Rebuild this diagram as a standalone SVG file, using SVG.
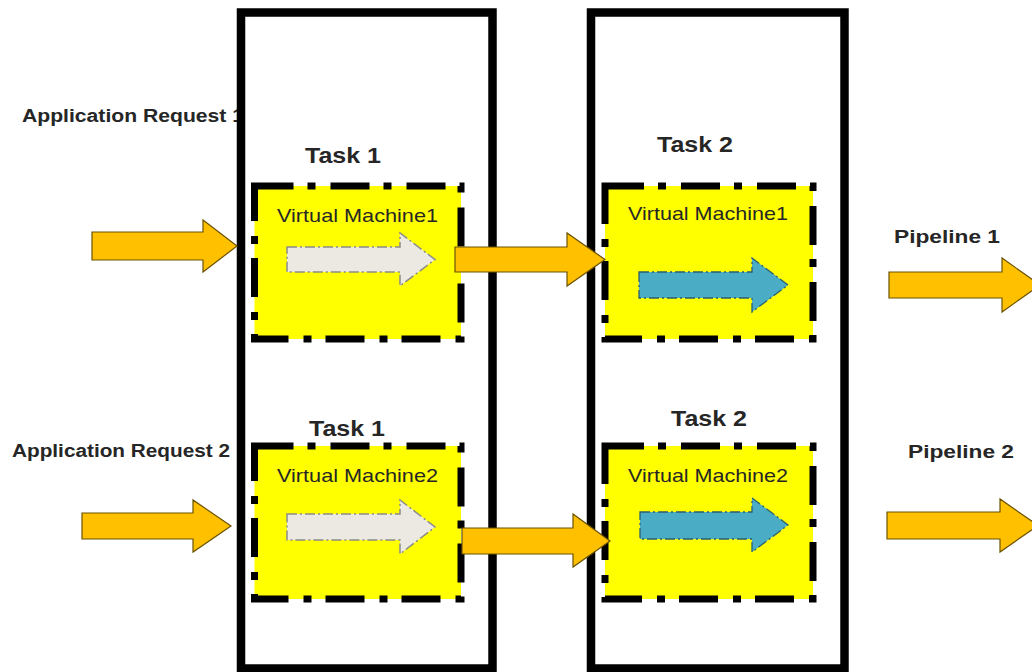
<svg xmlns="http://www.w3.org/2000/svg" width="1032" height="672" viewBox="0 0 1032 672">
  <style>
    .stage { fill: none; stroke: #000; stroke-width: 8.5; }
    .vm { fill: #FFFF00; stroke: #000; stroke-width: 7; stroke-dasharray: 39 14 8 15; }
    .flow { fill: #FFC000; stroke: #6B5200; stroke-width: 1.2; stroke-linejoin: miter; }
    .idle { fill: #EBE9E1; stroke: #8A8A8A; stroke-width: 1.5; stroke-dasharray: 10 3 2 3; }
    .busy { fill: #4BACC6; stroke: #2A5E6E; stroke-width: 1.3; stroke-dasharray: 10 3 2 3; }
    .lbl { font-family: "Liberation Sans", Arial, sans-serif; font-weight: bold; fill: #262626; }
    .vmtxt { font-family: "Liberation Sans", Arial, sans-serif; font-size: 19px; fill: #262626; }
  </style>

  <rect width="1032" height="672" fill="#fff"/>

  <!-- request / pipeline labels (drawn first so the stage border overlaps them) -->
  <g id="label-request1">
    <text class="lbl" x="22" y="122" font-size="18" textLength="222" lengthAdjust="spacingAndGlyphs">Application Request 1</text>
  </g>
  <g id="label-request2">
    <text class="lbl" x="12" y="457" font-size="18" textLength="218" lengthAdjust="spacingAndGlyphs">Application Request 2</text>
  </g>
  <g id="label-pipeline1">
    <text class="lbl" x="894" y="243" font-size="19" textLength="106" lengthAdjust="spacingAndGlyphs">Pipeline 1</text>
  </g>
  <g id="label-pipeline2">
    <text class="lbl" x="908" y="458" font-size="19" textLength="106" lengthAdjust="spacingAndGlyphs">Pipeline 2</text>
  </g>

  <!-- pipeline stage containers -->
  <g id="stage-task1">
    <rect class="stage" x="241" y="12.5" width="251.5" height="656"/>
  </g>
  <g id="stage-task2">
    <rect class="stage" x="591" y="12.5" width="253.5" height="656"/>
  </g>

  <!-- stage titles -->
  <g id="title-task1-row1"><text class="lbl" x="305" y="163" font-size="22" textLength="76" lengthAdjust="spacingAndGlyphs">Task 1</text></g>
  <g id="title-task2-row1"><text class="lbl" x="657" y="152" font-size="22" textLength="76" lengthAdjust="spacingAndGlyphs">Task 2</text></g>
  <g id="title-task1-row2"><text class="lbl" x="309" y="436" font-size="22" textLength="76" lengthAdjust="spacingAndGlyphs">Task 1</text></g>
  <g id="title-task2-row2"><text class="lbl" x="671" y="426" font-size="22" textLength="76" lengthAdjust="spacingAndGlyphs">Task 2</text></g>

  <!-- virtual machines -->
  <g id="vm1-task1">
    <rect class="vm" x="254.5" y="186" width="206.5" height="153"/>
    <text class="vmtxt" x="277" y="222" textLength="161" lengthAdjust="spacingAndGlyphs">Virtual Machine1</text>
    <polygon class="idle" points="287,247 400,247 400,233 435,259.5 400,286 400,272 287,272"/>
  </g>
  <g id="vm1-task2">
    <rect class="vm" x="605" y="186" width="208" height="153"/>
    <text class="vmtxt" x="628" y="220" textLength="160" lengthAdjust="spacingAndGlyphs">Virtual Machine1</text>
    <polygon class="busy" points="639,272 752,272 752,258 788,285 752,312 752,298 639,298"/>
  </g>
  <g id="vm2-task1">
    <rect class="vm" x="254.5" y="446" width="206.5" height="153"/>
    <text class="vmtxt" x="277" y="482" textLength="161" lengthAdjust="spacingAndGlyphs">Virtual Machine2</text>
    <polygon class="idle" points="287,514 400,514 400,500 435,527 400,554 400,540 287,540"/>
  </g>
  <g id="vm2-task2">
    <rect class="vm" x="605" y="446" width="208" height="153"/>
    <text class="vmtxt" x="628" y="482" textLength="160" lengthAdjust="spacingAndGlyphs">Virtual Machine2</text>
    <polygon class="busy" points="640,512 752,512 752,498 788,525 752,552 752,539 640,539"/>
  </g>

  <!-- flow connectors -->
  <g id="connectors">
    <polygon class="flow" points="92,232 203,232 203,220 237,246 203,272 203,260 92,260"/>
    <polygon class="flow" points="82,513 193,513 193,500 231,526 193,552 193,539 82,539"/>
    <polygon class="flow" points="455,247 567,247 567,233 605,259.5 567,286 567,272 455,272"/>
    <polygon class="flow" points="462,528 573,528 573,514 610,541 573,567 573,554 462,554"/>
    <polygon class="flow" points="889,272 1002,272 1002,258 1040,285 1002,312 1002,298 889,298"/>
    <polygon class="flow" points="887,512 1000,512 1000,499 1038,525.5 1000,552 1000,539 887,539"/>
  </g>
</svg>
